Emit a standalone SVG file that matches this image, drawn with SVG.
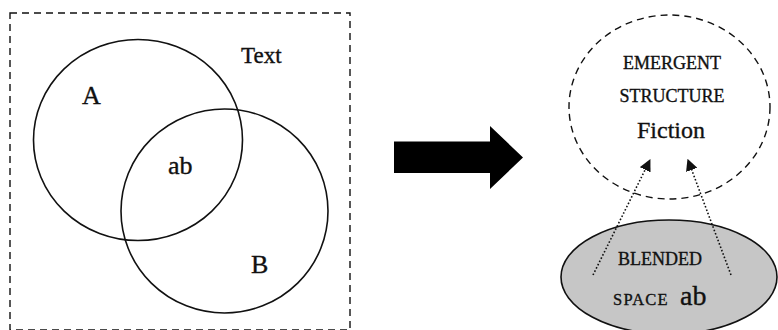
<svg xmlns="http://www.w3.org/2000/svg" width="778" height="330" viewBox="0 0 778 330">
  <style>
    .lbl { font-family: "Liberation Serif", "Times New Roman", serif; fill: #111; stroke: #111; stroke-width: 0.35; }
    .line { fill: none; stroke: #111; stroke-width: 1.6; }
    .dash { fill: none; stroke: #111; stroke-width: 1.4; stroke-dasharray: 7 5; }
    .dot { fill: none; stroke: #111; stroke-width: 1.6; stroke-dasharray: 1.6 2; }
  </style>
  <defs>
    <marker id="tri" viewBox="0 0 12 12" refX="2" refY="6" markerWidth="12" markerHeight="12" markerUnits="userSpaceOnUse" orient="auto">
      <path d="M0,0 L12,6 L0,12 Z" fill="#111"/>
    </marker>
  </defs>

  <!-- text frame with two input spaces -->
  <g id="text-frame">
    <rect x="10" y="13" width="340" height="317" class="dash"/>
    <text x="241" y="63" class="lbl" font-size="23">Text</text>
  </g>
  <g id="space-a">
    <ellipse cx="138" cy="140" rx="104.5" ry="100.5" class="line"/>
    <text x="82" y="104" class="lbl" font-size="26">A</text>
  </g>
  <g id="space-b">
    <ellipse cx="224.5" cy="211" rx="103.5" ry="102" class="line"/>
    <text x="251" y="273" class="lbl" font-size="26">B</text>
  </g>
  <g id="overlap">
    <text x="168" y="174" class="lbl" font-size="26">ab</text>
  </g>

  <!-- emergent structure -->
  <g id="emergent">
    <ellipse cx="669.5" cy="107" rx="100.5" ry="92" class="dash"/>
    <text x="672" y="69" class="lbl" font-size="18" text-anchor="middle">EMERGENT</text>
    <text x="672" y="102" class="lbl" font-size="18" text-anchor="middle">STRUCTURE</text>
    <text x="671" y="138" class="lbl" font-size="24" text-anchor="middle">Fiction</text>
  </g>

  <!-- blended space -->
  <g id="blended">
    <ellipse cx="669" cy="277" rx="108" ry="57" fill="#c6c6c6" stroke="#111" stroke-width="1.6"/>
    <text x="660" y="265" class="lbl" font-size="18" text-anchor="middle">BLENDED</text>
    <text x="613" y="305" class="lbl" font-size="16.5" letter-spacing="1.2">SPACE</text>
    <text x="680" y="305" class="lbl" font-size="28">ab</text>
  </g>

  <!-- connectors -->
  <g id="connectors">
    <path d="M394,141.5 H490 V126 L523,157.5 L490,189 V173 H394 Z" fill="#000"/>
    <path d="M593,275 L646,168" class="dot" marker-end="url(#tri)"/>
    <path d="M731,275 L691,168" class="dot" marker-end="url(#tri)"/>
  </g>
</svg>
